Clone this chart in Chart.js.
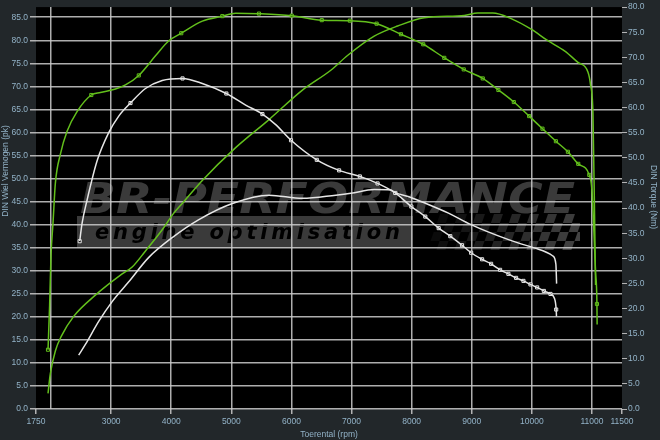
<!DOCTYPE html>
<html>
<head>
<meta charset="utf-8">
<script src="https://cdn.jsdelivr.net/npm/chart.js@4.4.1/dist/chart.umd.min.js"></script>
<style>
  html, body { margin: 0; padding: 0; background: #22272a; }
  canvas { display: block; }
</style>
</head>
<body>
<canvas id="dyno" width="660" height="440"></canvas>
<script>
// axis ticks
const rpmTicks = [1750, 2000, 3000, 4000, 5000, 6000, 7000, 8000, 9000, 10000, 11000, 11500];

// run 1 (green) - torque, Nm
const g1Rpm = [1950, 1977, 2000, 2033, 2072, 2155, 2267, 2433, 2670, 2822, 3072, 3238, 3460, 3738, 3960, 4167, 4517, 4850, 5072, 5460, 6005, 6505, 6972, 7417, 7822, 8193, 8543, 8867, 9183, 9443, 9700, 9955, 10177, 10400, 10600, 10772, 10955, 11000, 11027, 11060, 11083, 11086];
const g1Torque = [11.8, 20.7, 30.6, 37.0, 44.9, 50.7, 55.3, 59.2, 62.5, 63.0, 63.7, 64.5, 66.4, 70.3, 73.3, 74.8, 77.2, 78.2, 78.8, 78.7, 78.3, 77.4, 77.3, 76.7, 74.6, 72.6, 69.9, 67.6, 65.8, 63.5, 61.1, 58.3, 55.8, 53.3, 51.2, 48.8, 46.6, 43.6, 37.0, 27.2, 20.9, 16.8];
const g1MarkRpm = [1950, 2670, 3460, 4167, 4850, 5460, 6005, 6505, 6972, 7417, 7822, 8193, 8543, 8867, 9183, 9443, 9700, 9955, 10177, 10400, 10600, 10772, 10955, 11083];
const g1MarkTorque = [11.8, 62.5, 66.4, 74.8, 78.2, 78.7, 78.3, 77.4, 77.3, 76.7, 74.6, 72.6, 69.9, 67.6, 65.8, 63.5, 61.1, 58.3, 55.8, 53.3, 51.2, 48.8, 46.6, 20.9];

// run 1 (green) - power, pk
const g2Rpm = [1950, 1988, 2072, 2172, 2377, 2738, 3183, 3350, 3572, 3850, 4043, 4183, 4517, 5072, 5627, 6183, 6655, 6933, 7377, 7767, 8210, 8877, 9100, 9350, 9655, 9988, 10267, 10543, 10767, 10933, 10977, 11017, 11043, 11060];
const g2Power = [3.4, 7.6, 12.6, 15.8, 20.1, 24.7, 29.3, 30.8, 34.3, 38.9, 42.5, 44.6, 49.6, 56.7, 62.8, 69.2, 73.5, 76.7, 80.9, 83.1, 84.9, 85.4, 85.9, 85.9, 84.7, 82.4, 79.9, 77.7, 75.2, 73.1, 70.3, 63.9, 42.5, 26.9];

// run 2 (white) - torque, Nm
const w1Rpm = [2477, 2517, 2600, 2767, 2960, 3127, 3322, 3572, 3850, 4188, 4517, 4917, 5238, 5517, 5738, 5993, 6422, 6793, 7138, 7433, 7727, 7995, 8227, 8450, 8643, 8838, 8990, 9172, 9322, 9472, 9610, 9738, 9860, 9977, 10088, 10200, 10310, 10377, 10405, 10410];
const w1Torque = [33.4, 37.0, 41.6, 49.4, 55.0, 58.3, 60.9, 63.8, 65.4, 65.8, 64.8, 62.8, 60.5, 58.7, 56.6, 53.5, 49.6, 47.5, 46.3, 44.9, 43.0, 40.3, 38.3, 36.0, 34.4, 32.6, 31.1, 29.8, 28.9, 27.7, 26.9, 26.1, 25.5, 24.8, 24.2, 23.5, 22.9, 22.0, 19.8, 18.4];
const w1MarkRpm = [2477, 3322, 4188, 4917, 5517, 5993, 6422, 6793, 7138, 7433, 7727, 7995, 8227, 8450, 8643, 8838, 8990, 9172, 9322, 9472, 9610, 9738, 9860, 9977, 10088, 10200, 10310, 10405];
const w1MarkTorque = [33.4, 60.9, 65.8, 62.8, 58.7, 53.5, 49.6, 47.5, 46.3, 44.9, 43.0, 40.3, 38.3, 36.0, 34.4, 32.6, 31.1, 29.8, 28.9, 27.7, 26.9, 26.1, 25.5, 24.8, 24.2, 23.5, 22.9, 19.8];

// run 2 (white) - power, pk
const w2Rpm = [2460, 2572, 2793, 3017, 3293, 3627, 4017, 4460, 5017, 5627, 6183, 6738, 6988, 7377, 7655, 7717, 7988, 8238, 8613, 8988, 9600, 10100, 10350, 10400, 10412];
const w2Power = [11.7, 14.0, 19.0, 23.3, 27.6, 32.9, 37.2, 41.1, 44.6, 46.4, 45.7, 46.4, 46.8, 47.6, 47.5, 47.0, 45.9, 44.6, 42.5, 40.0, 36.8, 34.7, 33.2, 31.4, 27.2];

const green = '#63c01c';
const white = '#e6e6e6';
const gridColor = 'rgba(205,205,205,0.85)';
const labelColor = '#93b3c8';
const labelFont = { family: '"Liberation Sans", Arial, sans-serif', size: 8.5 };

const pts = (xs, ys) => xs.map((x, i) => ({ x, y: ys[i] }));

function lineSet(data, color, axis) {
  return {
    data, yAxisID: axis, borderColor: color, borderWidth: 1.5,
    pointRadius: 0, cubicInterpolationMode: 'monotone', fill: false
  };
}

function markSet(data, color, axis) {
  return {
    data, yAxisID: axis, showLine: false, pointStyle: 'rect',
    pointRadius: 2.2, pointBorderWidth: 1, pointBorderColor: color,
    pointBackgroundColor: '#000'
  };
}

// spread characters evenly between x0 and x1
function spacedText(ctx, text, x0, x1, y) {
  const widths = [...text].map(ch => ctx.measureText(ch).width);
  const total = widths.reduce((a, b) => a + b, 0);
  const gap = (x1 - x0 - total) / (text.length - 1);
  let x = x0;
  [...text].forEach((ch, i) => {
    ctx.fillText(ch, x, y);
    x += widths[i] + gap;
  });
}

function drawLogo(ctx) {
  ctx.save();
  // big lettering
  ctx.fillStyle = '#3a3a3a';
  ctx.font = 'italic bold 42px "DejaVu Sans", sans-serif';
  const word = 'BR-PERFORMANCE';
  const w = ctx.measureText(word).width;
  ctx.save();
  ctx.translate(80, 213);
  ctx.scale(495 / w, 1);
  ctx.fillText(word, 0, 0);
  ctx.restore();

  // bar with subtitle
  ctx.fillStyle = '#3a3a3a';
  ctx.fillRect(77, 216, 336, 32);
  ctx.fillStyle = '#000';
  ctx.font = 'italic bold 21px "DejaVu Sans", sans-serif';
  spacedText(ctx, 'engine optimisation', 95, 400, 239);

  // checkered flag
  ctx.save();
  ctx.beginPath();
  ctx.rect(420, 212, 160, 40);
  ctx.clip();
  ctx.translate(440, 214);
  ctx.transform(1, 0, -0.35, 1, 0, 0);
  const s = 9;
  for (let i = 0; i < 18; i++) {
    for (let j = 0; j < 4; j++) {
      if ((i + j) % 2) continue;
      ctx.globalAlpha = 0.15 + 0.8 * (i / 17);
      ctx.fillStyle = '#4a4a4a';
      ctx.fillRect(i * s, j * s, s, s);
    }
  }
  ctx.restore();
  ctx.restore();
}

const backdrop = {
  id: 'backdrop',
  beforeDraw(chart) {
    const { ctx, chartArea: a, width, height } = chart;
    ctx.save();
    ctx.fillStyle = '#22272a';
    ctx.fillRect(0, 0, width, height);
    ctx.fillStyle = '#000';
    ctx.fillRect(a.left, a.top, a.right - a.left, a.bottom - a.top);
    ctx.restore();
    drawLogo(ctx);
  },
  afterDraw(chart) {
    const ctx = chart.ctx;
    ctx.save();
    ctx.fillStyle = labelColor;
    ctx.font = '8.5px "Liberation Sans", Arial, sans-serif';
    ctx.textAlign = 'center';
    ctx.textBaseline = 'middle';
    ctx.translate(6, 171);
    ctx.rotate(-Math.PI / 2);
    ctx.fillText('DIN Wiel Vermogen (pk)', 0, 0);
    ctx.restore();
    ctx.save();
    ctx.fillStyle = labelColor;
    ctx.font = '8.5px "Liberation Sans", Arial, sans-serif';
    ctx.textAlign = 'center';
    ctx.textBaseline = 'middle';
    ctx.translate(653, 197);
    ctx.rotate(Math.PI / 2);
    ctx.fillText('DIN Torque (Nm)', 0, 0);
    ctx.restore();
  }
};

new Chart(document.getElementById('dyno'), {
  type: 'line',
  data: {
    datasets: [
      lineSet(pts(w2Rpm, w2Power), white, 'y'),
      lineSet(pts(w1Rpm, w1Torque), white, 'y2'),
      lineSet(pts(g2Rpm, g2Power), green, 'y'),
      lineSet(pts(g1Rpm, g1Torque), green, 'y2'),
      markSet(pts(w1MarkRpm, w1MarkTorque), white, 'y2'),
      markSet(pts(g1MarkRpm, g1MarkTorque), green, 'y2')
    ]
  },
  options: {
    responsive: false,
    animation: false,
    layout: { padding: { top: 1 } },
    plugins: { legend: { display: false }, tooltip: { enabled: false } },
    scales: {
      x: {
        type: 'linear',
        min: 1750,
        max: 11500,
        afterBuildTicks: (axis) => { axis.ticks = rpmTicks.map(v => ({ value: v })); },
        afterFit: (axis) => { axis.height = 31; },
        border: { display: false },
        grid: {
          color: (c) => (c.tick && (c.tick.value === 1750 || c.tick.value === 11500)) ? 'rgba(0,0,0,0)' : gridColor,
          tickColor: (c) => (c.tick && c.tick.value === 2000) ? 'rgba(0,0,0,0)' : gridColor,
          lineWidth: 1.5,
          tickLength: 5
        },
        ticks: {
          color: labelColor,
          font: labelFont,
          padding: 3,
          maxRotation: 0,
          autoSkip: false,
          callback: (v) => v === 2000 ? '' : String(v)
        },
        title: {
          display: true,
          text: 'Toerental (rpm)',
          color: labelColor,
          font: labelFont,
          padding: { top: 0, bottom: 0 }
        }
      },
      y: {
        position: 'left',
        min: 0,
        max: 87.2,
        afterBuildTicks: (axis) => { axis.ticks = axis.ticks.filter(t => t.value % 5 === 0); },
        afterFit: (axis) => { axis.width = 36; },
        border: { display: false },
        grid: { color: gridColor, tickColor: gridColor, lineWidth: 1.5, tickLength: 6 },
        ticks: {
          stepSize: 5,
          color: labelColor,
          font: labelFont,
          padding: 2,
          callback: (v) => Number(v).toFixed(1)
        }
      },
      y2: {
        position: 'right',
        min: 0,
        max: 80,
        afterFit: (axis) => { axis.width = 38; },
        border: { display: false },
        grid: { drawOnChartArea: false, tickColor: gridColor, tickLength: 5 },
        ticks: {
          stepSize: 5,
          color: labelColor,
          font: labelFont,
          padding: 1,
          callback: (v) => Number(v).toFixed(1)
        }
      }
    }
  },
  plugins: [backdrop]
});
</script>
</body>
</html>
